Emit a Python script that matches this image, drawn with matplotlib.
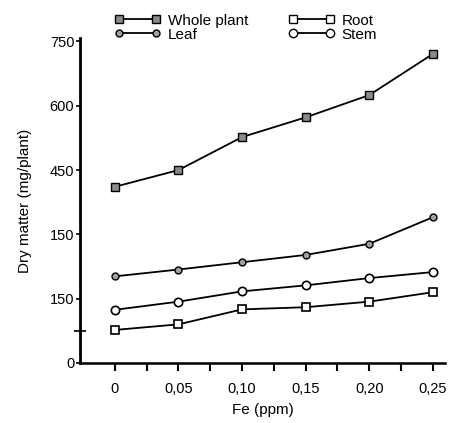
import numpy as np
import matplotlib.pyplot as plt
from matplotlib.lines import Line2D

plt.rcParams['font.family'] = ['Liberation Sans', 'DejaVu Sans']

# Fe concentration (ppm)
fe = [0, 0.05, 0.10, 0.15, 0.20, 0.25]

# Dry matter (mg/plant)
whole_plant = [411, 450, 527, 573, 625, 721]
leaf = [202, 218, 235, 252, 278, 340]
stem = [124, 143, 167, 181, 198, 212]
root = [77, 90, 125, 130, 143, 165]

y_ticks = [0, 150, 300, 450, 600, 750]
y_labels = ['0', '150', '150', '450', '600', '750']   # as printed in the original
x_labels = ['0', '0,05', '0,10', '0,15', '0,20', '0,25']

fig = plt.figure(figsize=(4.49, 4.23), dpi=100)
ax = fig.add_axes([0.178, 0.142, 0.813, 0.768])

ax.plot(fe, whole_plant, color='black', lw=1.3, marker='s', ms=6,
        mfc='#8a8a8a', mec='black', mew=1.0)
ax.plot(fe, leaf, color='black', lw=1.3, marker='o', ms=5,
        mfc='#a0a0a0', mec='black', mew=1.0)
ax.plot(fe, stem, color='black', lw=1.3, marker='o', ms=6,
        mfc='white', mec='black', mew=1.2)
ax.plot(fe, root, color='black', lw=1.3, marker='s', ms=6,
        mfc='white', mec='black', mew=1.2)

ax.set_xlim(-0.0275, 0.2595)
ax.set_ylim(0, 758)

for side in ['top', 'right']:
    ax.spines[side].set_visible(False)
ax.spines['left'].set_linewidth(2.0)
ax.spines['bottom'].set_linewidth(1.8)

ax.set_yticks(y_ticks)
ax.set_yticklabels(y_labels)
ax.set_yticks([75], minor=True)
ax.tick_params(axis='y', which='minor', direction='inout', length=8, width=1.2)
ax.tick_params(axis='y', which='major', direction='out', length=3, width=1.2,
               labelsize=10.5, pad=1)

ax.set_xticks(fe)
ax.set_xticklabels(x_labels)
ax.set_xticks([0.025, 0.075, 0.125, 0.175, 0.225], minor=True)
ax.tick_params(axis='x', which='both', direction='out', length=6, width=1.5)
ax.tick_params(axis='x', which='major', labelsize=10.5, pad=8)

ax.set_xlabel('Fe (ppm)', fontsize=11, labelpad=5)
ax.set_ylabel('Dry matter (mg/plant)', fontsize=11, labelpad=13)

handles = [
    Line2D([], [], color='black', lw=1.3, marker='s', ms=6, mfc='#8a8a8a', mec='black'),
    Line2D([], [], color='black', lw=1.3, marker='o', ms=5, mfc='#a0a0a0', mec='black'),
    Line2D([], [], color='black', lw=1.3, marker='s', ms=6, mfc='white', mec='black'),
    Line2D([], [], color='black', lw=1.3, marker='o', ms=6, mfc='white', mec='black'),
]
fig.legend(handles, ['Whole plant', 'Leaf', 'Root', 'Stem'], ncol=2,
           loc='upper left', bbox_to_anchor=(0.225, 1.0), frameon=False,
           fontsize=11, handlelength=3.0, numpoints=2, handletextpad=0.5,
           columnspacing=2.6, labelspacing=0.0)

fig.savefig('out.png', dpi=100)
